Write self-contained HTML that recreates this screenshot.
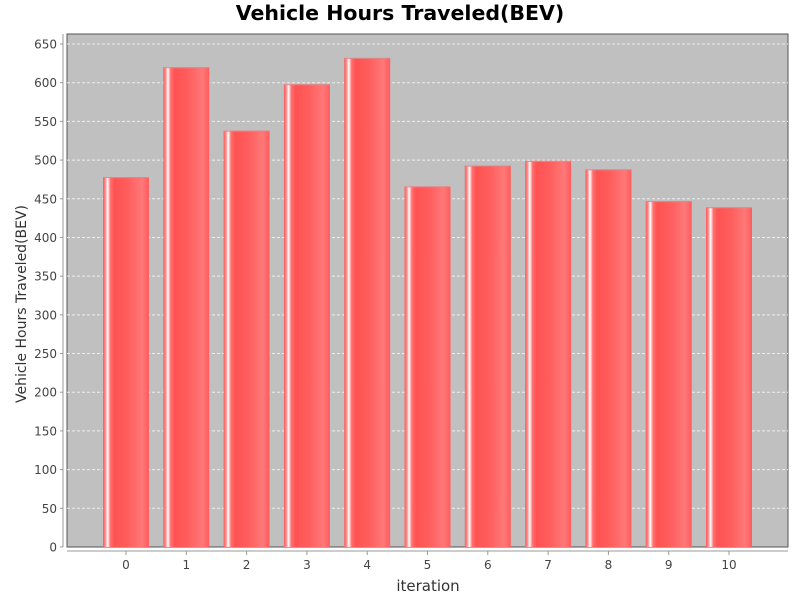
<!DOCTYPE html>
<html><head><meta charset="utf-8"><style>
html,body{margin:0;padding:0;background:#fff;}
svg text{font-family:"DejaVu Sans","Liberation Sans",sans-serif;}
</style></head><body>
<svg id="chart" width="800" height="600" xmlns="http://www.w3.org/2000/svg">
<defs>
<linearGradient id="barGrad" x1="0" x2="1" y1="0" y2="0">
<stop offset="0" stop-color="#ff5a5a"/>
<stop offset="0.05" stop-color="#ff8a8a"/>
<stop offset="0.1" stop-color="#ffffff"/>
<stop offset="0.16" stop-color="#ff7070"/>
<stop offset="0.25" stop-color="#ff5252"/>
<stop offset="0.55" stop-color="#ff5e5e"/>
<stop offset="0.85" stop-color="#ff7878"/>
<stop offset="1" stop-color="#ff5c5c"/>
</linearGradient>
</defs>
<text x="400" y="20" text-anchor="middle" font-size="20.5" font-weight="bold" fill="#000">Vehicle Hours Traveled(BEV)</text>
<rect x="67" y="34" width="721" height="513" fill="#c0c0c0" stroke="#555" stroke-width="1"/>
<g id="grid"></g>
<g id="bars"></g>
<g id="yaxis"></g>
<g id="xaxis"></g>
<text transform="translate(26,304) rotate(-90)" text-anchor="middle" font-size="14" fill="#333">Vehicle Hours Traveled(BEV)</text>
<text x="428" y="591" text-anchor="middle" font-size="15" fill="#333">iteration</text>
</svg>
<script>
const categories=["0","1","2","3","4","5","6","7","8","9","10"];
const values=[478,620,538,598,632,466,493,499,488,447,439];
const yTicks=[0,50,100,150,200,250,300,350,400,450,500,550,600,650];
const NS="http://www.w3.org/2000/svg";
const plotL=67,plotR=788,plotB=547,pxPerUnit=503/650;
function yScale(v){return plotB-v*pxPerUnit;}
const catStart=126,catStep=(729-126)/10,barW=46;
function xScale(i){return catStart+i*catStep;}
function mk(t,a,p){const e=document.createElementNS(NS,t);for(const k in a)e.setAttribute(k,a[k]);p.appendChild(e);return e;}
const grid=document.getElementById('grid'),bars=document.getElementById('bars'),ya=document.getElementById('yaxis'),xa=document.getElementById('xaxis');
mk('line',{x1:63,y1:34,x2:63,y2:547,stroke:'#999'},ya);
mk('line',{x1:67,y1:551,x2:788,y2:551,stroke:'#999'},xa);
yTicks.forEach(v=>{const y=yScale(v);
 if(v>0){const g=mk('line',{x1:plotL,y1:y,x2:plotR,y2:y,stroke:'#eee','stroke-dasharray':'3,2','stroke-width':1},grid);
 
 }
 mk('line',{x1:60,y1:y,x2:63,y2:y,stroke:'#999'},ya);
 const t=mk('text',{x:57,y:y+4.5,'text-anchor':'end','font-size':12,fill:'#444'},ya);t.textContent=v;
 
 
});
categories.forEach((c,i)=>{const cx=xScale(i),y=yScale(values[i]);
 const r=mk('rect',{x:cx-barW/2,y:y,width:barW,height:plotB-y,fill:'url(#barGrad)'},bars);
 
 
 mk('line',{x1:cx-barW/2,y1:y+0.5,x2:cx+barW/2,y2:y+0.5,stroke:'#d88','stroke-width':1},bars);
 mk('line',{x1:cx,y1:551,x2:cx,y2:555,stroke:'#999'},xa);
 const t=mk('text',{x:cx,y:569,'text-anchor':'middle','font-size':12,fill:'#444'},xa);t.textContent=c;
 
 
});
</script>
</body></html>
